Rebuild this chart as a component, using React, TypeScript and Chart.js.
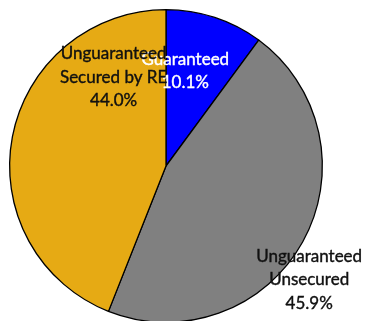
import React, { useEffect, useRef } from "react";
import { Chart, registerables } from "chart.js";

Chart.register(...registerables);

const categories = ["Guaranteed", "Unguaranteed Unsecured", "Unguaranteed Secured by RE"];
const labelLines = [["Guaranteed"], ["Unguaranteed", "Unsecured"], ["Unguaranteed", "Secured by RE"]];
const shares = [10.1, 45.9, 44.0];
const colors = ["#0000FF", "#808080", "#E6AA14"];
const textColors = ["#FFFFFF", "#111111", "#111111"];

// label anchor: angle (deg, clockwise from top) and radius factor
const labelPlacement = [
  { angle: 11.5, r: 0.62 },
  { angle: 128.5, r: 1.17 },
  { angle: 329.5, r: 0.66 },
];

const labelPlugin = {
  id: "sliceLabels",
  afterDatasetsDraw(chart: any) {
    const ctx = chart.ctx;
    const meta = chart.getDatasetMeta(0);
    ctx.save();
    ctx.font = "17px Lato, 'Noto Sans', sans-serif";
    ctx.textAlign = "center";
    ctx.textBaseline = "middle";
    const lh = 23.5;
    meta.data.forEach((arc: any, i: number) => {
      const p = labelPlacement[i];
      const a = (p.angle * Math.PI) / 180;
      const rr = arc.outerRadius * p.r;
      const cx = arc.x + Math.sin(a) * rr;
      const cy = arc.y - Math.cos(a) * rr;
      const lines = [...labelLines[i], shares[i].toFixed(1) + "%"];
      const top = cy - ((lines.length - 1) * lh) / 2;
      ctx.fillStyle = textColors[i];
      ctx.strokeStyle = textColors[i];
      ctx.lineWidth = 0.4;
      lines.forEach((t, j) => {
        ctx.fillText(t, cx, top + j * lh);
        ctx.strokeText(t, cx, top + j * lh);
      });
    });
    ctx.restore();
  },
};

export default function App() {
  const ref = useRef<HTMLCanvasElement>(null);
  useEffect(() => {
    if (!ref.current) return;
    const chart = new Chart(ref.current, {
      type: "pie",
      data: {
        labels: categories,
        datasets: [
          {
            data: shares,
            backgroundColor: colors,
            borderColor: "#000000",
            borderWidth: 1.3,
          },
        ],
      },
      options: {
        responsive: false,
        animation: false,
        layout: { padding: { top: 9, left: 9, right: 45, bottom: 7 } },
        plugins: { legend: { display: false }, tooltip: { enabled: false } },
      },
      plugins: [labelPlugin],
    });
    return () => chart.destroy();
  }, []);
  return (
    <div style={{ position: "fixed", left: 0, top: 0, width: 368, height: 321, overflow: "hidden", background: "#fff" }}>
      <canvas ref={ref} width={368} height={330} style={{ display: "block" }} />
    </div>
  );
}
